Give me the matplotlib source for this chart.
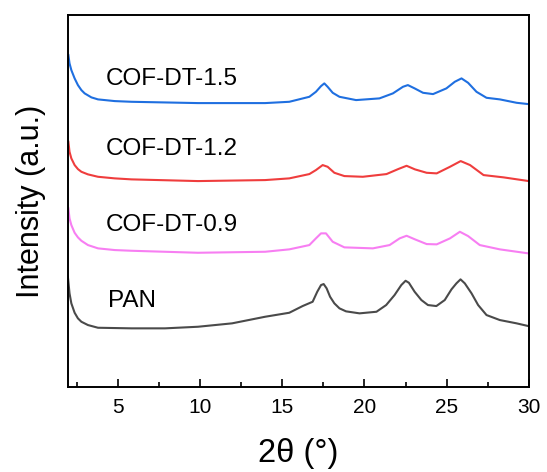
import matplotlib
matplotlib.use("Agg")
import matplotlib.pyplot as plt
from matplotlib.ticker import MultipleLocator

plt.rcParams['font.family'] = ['Liberation Sans', 'DejaVu Sans']

# 2-theta (deg) and intensity (arbitrary units, stacked with offsets)
x_blue = [2.0, 2.07, 2.18, 2.38, 2.58, 2.79, 2.99, 3.4, 3.8, 4.82, 5.84, 9.88, 13.96,
          15.43, 16.65, 17.05, 17.36, 17.56, 17.76, 18.07, 18.48, 19.49, 20.91, 21.73,
          22.34, 22.64, 23.05, 23.56, 24.17, 24.98, 25.49, 25.9, 26.3, 26.81, 27.42,
          28.23, 29.25, 29.96]
y_blue = [332, 323.7, 317, 308.7, 302, 297, 293.7, 289.7, 287.7, 286, 285.3, 284, 284,
          285.3, 290.3, 295.3, 301, 303.7, 300.3, 294.3, 290.3, 287, 288.7, 293.7,
          300.3, 302, 298.7, 294.3, 293, 298.7, 305.3, 308.7, 304.3, 295.3, 289.3,
          287.7, 284.3, 283]

x_red = [2.0, 2.07, 2.18, 2.38, 2.58, 2.79, 3.19, 3.8, 4.82, 5.84, 9.88, 13.96,
         15.43, 16.65, 17.05, 17.46, 17.76, 18.17, 18.78, 19.9, 21.34, 22.05, 22.56,
         23.07, 23.78, 24.39, 25.2, 25.85, 26.42, 27.24, 28.46, 29.99]
y_red = [245.3, 235.3, 228.7, 222, 218, 215.3, 212.7, 210.3, 208.7, 207.7, 206, 207,
         208.7, 213, 217, 222, 220.3, 214.3, 211, 210.3, 213, 218, 221.3,
         217.7, 214.3, 213.7, 220.3, 226, 222, 212, 209.7, 206]

x_pink = [2.0, 2.07, 2.18, 2.38, 2.58, 2.79, 3.19, 3.8, 4.82, 5.84, 9.88, 13.96,
          15.43, 16.65, 17.05, 17.36, 17.66, 18.07, 18.78, 20.51, 21.53, 22.14, 22.56,
          23.07, 23.78, 24.39, 25.2, 25.8, 26.3, 27.01, 28.23, 29.96]
y_pink = [178.7, 168.7, 162, 154.3, 149.7, 146.3, 142, 138.7, 137, 136.3, 134.3, 135.3,
          137.7, 142, 148.7, 153.7, 153.7, 145.3, 139.7, 138.7, 142, 148.7, 151.3,
          147.7, 143, 142.7, 148.7, 155.3, 151, 142, 137.7, 133.7]

x_pan = [1.97, 2.07, 2.18, 2.38, 2.58, 2.79, 3.19, 3.8, 5.85, 7.87, 9.88, 11.95, 13.96,
         15.43, 16.24, 16.85, 17.13, 17.36, 17.52, 17.7, 17.91, 18.17, 18.48, 18.88,
         19.7, 20.73, 21.32, 21.83, 22.24, 22.5, 22.7, 23.05, 23.46, 23.86, 24.37,
         24.88, 25.29, 25.59, 25.84, 26.1, 26.51, 26.91, 27.42, 28.23, 29.25, 29.96]
y_pan = [110.3, 93.7, 83.7, 74.3, 68.7, 65.3, 62, 59.3, 58.7, 58.7, 60.3, 63.7, 70.3,
         74.3, 81, 85.3, 95.3, 102, 103, 98.7, 90.3, 83.7, 78.7, 75.7,
         73.7, 75.3, 82, 92, 102, 106.3, 104.3, 95.3, 87, 82, 81,
         87, 97.7, 103.7, 107.7, 103.7, 93.7, 82, 72, 67, 63.7, 61]

labels = ['COF-DT-1.5', 'COF-DT-1.2', 'COF-DT-0.9', 'PAN']
label_x = [4.25, 4.25, 4.25, 4.4]
label_y = [308, 238, 162, 86]
colors = ['#1f6fe0', '#ef3d3d', '#f77ef2', '#4a4a4a']

xticks = [5, 10, 15, 20, 25, 30]

fig = plt.figure(figsize=(5.47, 4.72), dpi=100)
ax = fig.add_axes([0.125, 0.18, 0.842, 0.788])

series = [(x_blue, y_blue), (x_red, y_red), (x_pink, y_pink), (x_pan, y_pan)]
for (xs, ys), c in zip(series, colors):
    ax.plot(xs, ys, color=c, lw=1.5, solid_joinstyle='round')

for t, lx, ly in zip(labels, label_x, label_y):
    ax.text(lx, ly, t, fontsize=17.5, va='center', ha='left', color='black')

ax.set_xlim(2, 30)
ax.set_ylim(0, 372)
ax.set_xticks(xticks)
ax.set_xticklabels([str(v) for v in xticks])
ax.xaxis.set_minor_locator(MultipleLocator(2.5))
ax.set_yticks([])
ax.tick_params(axis='x', which='major', direction='in', length=6, width=1.2,
               labelsize=15, pad=8, top=False)
ax.tick_params(axis='x', which='minor', direction='in', length=3.5, width=1.2, top=False)
for s in ax.spines.values():
    s.set_linewidth(1.4)

ax.set_xlabel('2θ (°)', fontsize=23.5, labelpad=15)
ax.set_ylabel('Intensity (a.u.)', fontsize=22, labelpad=16)

fig.savefig('out.png', dpi=100)
